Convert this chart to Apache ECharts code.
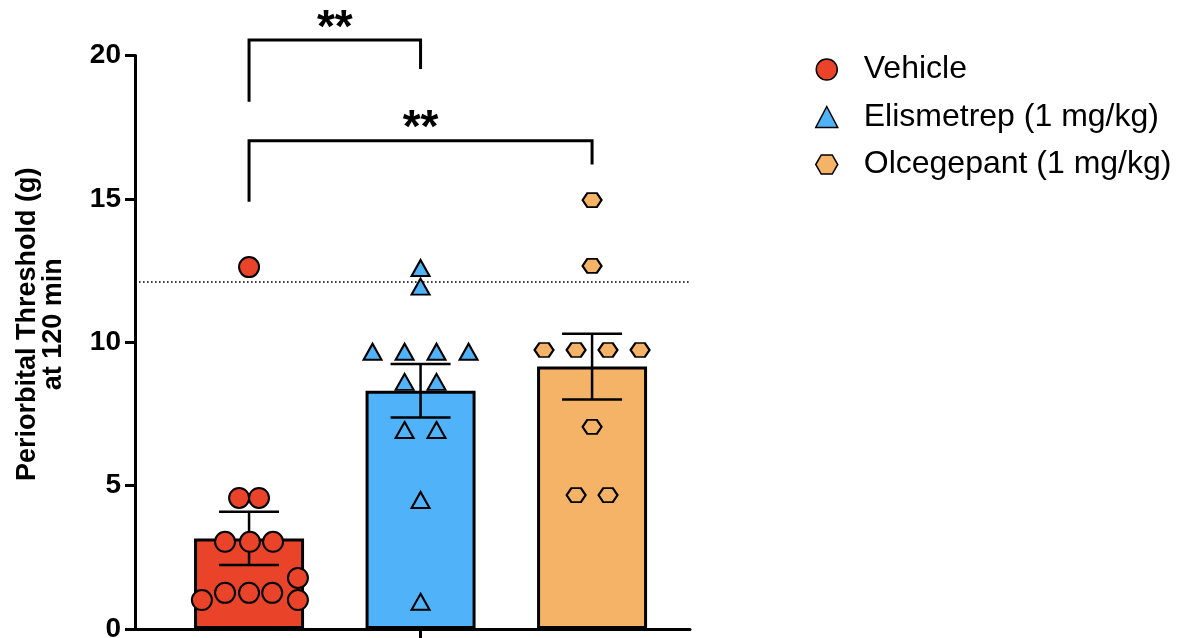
<!DOCTYPE html>
<html>
<head>
<meta charset="utf-8">
<script src="https://cdn.jsdelivr.net/npm/echarts@6/dist/echarts.min.js"></script>
<style>
  html, body { margin: 0; padding: 0; background: #fff; }
  #chart { width: 1184px; height: 638px; }
</style>
</head>
<body>
<div id="chart"></div>
<script>
// Treatment groups and group means ± SEM
const groups = ['Vehicle', 'Elismetrep (1 mg/kg)', 'Olcegepant (1 mg/kg)'];
const barMeans = [3.16, 8.31, 9.15];
const barSems = [0.93, 0.93, 1.15];

// Individual animals; *Spread is the horizontal scatter offset within a group (in group widths)
const vehicleValues = [12.62, 4.57, 4.57, 3.04, 3.04, 3.04, 1.26, 1.26, 1.26, 1.01, 1.78, 1.01];
const vehicleSpread = [0, -0.058, 0.058, -0.14, 0.005, 0.14, -0.14, 0, 0.135, -0.275, 0.285, 0.285];
const elismetrepValues = [12.59, 11.94, 9.67, 9.67, 9.67, 9.67, 8.62, 8.62, 6.94, 6.94, 4.5, 0.95];
const elismetrepSpread = [0, 0, -0.28, -0.093, 0.093, 0.28, -0.093, 0.093, -0.093, 0.093, 0, 0];
const olcegepantValues = [14.96, 12.66, 9.73, 9.73, 9.73, 9.73, 7.05, 4.67, 4.67];
const olcegepantSpread = [0, 0, -0.28, -0.093, 0.093, 0.28, 0, -0.093, 0.093];

// Baseline threshold reference line
const baselineThreshold = 12.12;

// Y axis ticks
const yTicks = [0, 5, 10, 15, 20];

// Significance brackets: [group A, group B, bracket height, left leg end, right leg end, label]
const comparisons = [
  [0, 1, 20.54, 18.39, 19.53, '**'],
  [0, 2, 17.03, 14.90, 16.20, '**']
];

// ---- styling ----
const FONT = '"Liberation Sans", Arial, Helvetica, sans-serif';
const colors = ['#E9442A', '#50B2F8', '#F4B366'];
const hexagon = 'path://M-1,0L-0.5,-0.866L0.5,-0.866L1,0L0.5,0.866L-0.5,0.866Z';
const symbols = ['circle', 'triangle', hexagon];
const symbolSizes = [20, [18, 16], [19, 14]];

const pointSets = [
  [vehicleValues, vehicleSpread],
  [elismetrepValues, elismetrepSpread],
  [olcegepantValues, olcegepantSpread]
];

const scatterSeries = pointSets.map(([vals, spread], g) => ({
  name: groups[g],
  type: 'scatter',
  z: 5,
  symbol: symbols[g],
  symbolSize: symbolSizes[g],
  itemStyle: { color: colors[g], borderColor: '#000', borderWidth: 2, opacity: 1 },
  data: vals.map((v, k) => [g + spread[k], v])
}));

const chart = echarts.init(document.getElementById('chart'), null, { renderer: 'canvas' });

chart.setOption({
  animation: false,
  backgroundColor: '#fff',
  textStyle: { fontFamily: FONT },
  grid: { left: 135, right: 494, top: 55.5, bottom: 9, containLabel: false, outerBoundsMode: 'none' },
  legend: {
    orient: 'vertical',
    left: 815,
    top: 53.5,
    padding: 0,
    itemWidth: 22,
    itemHeight: 21,
    itemGap: 15.5,
    selectedMode: false,
    data: groups.map((n, i) => ({ name: n, icon: symbols[i], itemStyle: { color: colors[i], borderColor: '#000', borderWidth: 1.5 } })),
    textStyle: { fontSize: 32, lineHeight: 31, color: '#000', fontFamily: FONT, padding: [0, 0, 0, 21] }
  },
  xAxis: {
    type: 'value',
    min: -0.665,
    max: 2.571,
    splitLine: { show: false },
    axisLine: { show: true, onZero: false, lineStyle: { color: '#000', width: 3 } },
    axisTick: { show: true, customValues: [1], length: 10, lineStyle: { color: '#000', width: 3 } },
    axisLabel: { show: false }
  },
  yAxis: {
    type: 'value',
    min: yTicks[0],
    max: yTicks[yTicks.length - 1],
    interval: 5,
    splitLine: { show: false },
    axisLine: { show: true, onZero: false, lineStyle: { color: '#000', width: 3 } },
    axisTick: { show: true, length: 10, lineStyle: { color: '#000', width: 3 } },
    axisLabel: { fontSize: 28, fontWeight: 'bold', color: '#000', margin: 14, fontFamily: FONT },
    name: 'Periorbital Threshold (g)\nat 120 min',
    nameLocation: 'middle',
    nameGap: 68,
    nameTextStyle: { fontSize: 27, fontWeight: 'bold', color: '#000', lineHeight: 26, fontFamily: FONT, padding: [0, 0, 0, 36] }
  },
  series: [
    {
      name: 'group mean',
      type: 'bar',
      z: 2,
      barWidth: 110,
      data: barMeans.map((m, i) => ({ value: [i, m], itemStyle: { color: colors[i] } })),
      itemStyle: { borderColor: '#000', borderWidth: 3 },
      markLine: {
        silent: true,
        symbol: ['none', 'none'],
        label: { show: false },
        lineStyle: { color: '#000', width: 1.6, type: [1.6, 2.4] },
        data: [{ yAxis: baselineThreshold }]
      }
    },
    {
      name: 'sem',
      type: 'custom',
      z: 3,
      data: barMeans.map((m, i) => [i, m, barSems[i]]),
      encode: { x: 0, y: 1 },
      renderItem(params, api) {
        const x = api.value(0), m = api.value(1), s = api.value(2);
        const top = api.coord([x, m + s]);
        const bot = api.coord([x, m - s]);
        const half = 30;
        const style = { stroke: '#000', lineWidth: 2.5 };
        return {
          type: 'group',
          children: [
            { type: 'line', shape: { x1: top[0], y1: top[1], x2: bot[0], y2: bot[1] }, style },
            { type: 'line', shape: { x1: top[0] - half, y1: top[1], x2: top[0] + half, y2: top[1] }, style },
            { type: 'line', shape: { x1: bot[0] - half, y1: bot[1], x2: bot[0] + half, y2: bot[1] }, style }
          ]
        };
      }
    },
    {
      name: 'significance',
      type: 'custom',
      z: 6,
      clip: false,
      data: comparisons.map(c => c.slice(0, 5)),
      encode: { x: [0, 1], y: 2 },
      renderItem(params, api) {
        const a = api.value(0), b = api.value(1);
        const top = api.value(2), legL = api.value(3), legR = api.value(4);
        const p1 = api.coord([a, legL]);
        const p2 = api.coord([a, top]);
        const p3 = api.coord([b, top]);
        const p4 = api.coord([b, legR]);
        return {
          type: 'group',
          children: [
            { type: 'polyline', shape: { points: [p1, p2, p3, p4] }, style: { stroke: '#000', lineWidth: 3, fill: 'none' } },
            {
              type: 'text',
              x: (p2[0] + p3[0]) / 2,
              y: p2[1] - 11,
              style: {
                text: comparisons[params.dataIndex][5],
                font: 'bold 46px ' + FONT,
                fill: '#000',
                align: 'center',
                verticalAlign: 'middle'
              }
            }
          ]
        };
      }
    },
    ...scatterSeries
  ]
});
</script>
</body>
</html>
